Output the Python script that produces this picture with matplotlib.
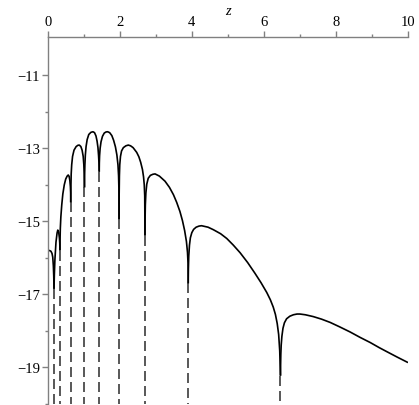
import matplotlib
matplotlib.use("Agg")
import matplotlib.pyplot as plt

plt.rcParams['font.family'] = ['Liberation Serif', 'DejaVu Serif']
plt.rcParams['lines.scale_dashes'] = False

# ---- data ----
arch0_z = [0.0, 0.05, 0.09, 0.12, 0.14, 0.157, 0.168, 0.175]
arch0_v = [-15.80, -15.80, -15.82, -15.88, -15.98, -16.22, -16.50, -16.85]

arch1_z = [0.175, 0.185, 0.20, 0.23, 0.26, 0.28, 0.305, 0.325, 0.335, 0.34]
arch1_v = [-16.85, -16.45, -16.05, -15.57, -15.32, -15.24, -15.30, -15.45, -15.60, -15.80]

arch2_z = [0.34, 0.343, 0.35, 0.365, 0.39, 0.42, 0.46, 0.50, 0.54, 0.57, 0.595, 0.615, 0.63, 0.637, 0.64]
arch2_v = [-15.80, -15.50, -15.20, -14.88, -14.55, -14.25, -14.00, -13.84, -13.76, -13.73, -13.77, -13.88, -14.05, -14.22, -14.48]

arch3_z = [0.64, 0.644, 0.652, 0.666, 0.69, 0.73, 0.79, 0.84, 0.877, 0.92, 0.955, 0.985, 1.003, 1.013, 1.02]
arch3_v = [-14.48, -14.05, -13.70, -13.45, -13.22, -13.05, -12.95, -12.915, -12.91, -12.95, -13.05, -13.22, -13.45, -13.70, -14.07]

arch4_z = [1.02, 1.024, 1.032, 1.045, 1.065, 1.095, 1.14, 1.20, 1.257, 1.30, 1.34, 1.37, 1.395, 1.412, 1.423, 1.43]
arch4_v = [-14.07, -13.75, -13.45, -13.18, -12.95, -12.76, -12.62, -12.56, -12.545, -12.57, -12.66, -12.80, -12.98, -13.20, -13.40, -13.64]

arch5_z = [1.43, 1.433, 1.44, 1.455, 1.48, 1.52, 1.57, 1.62, 1.665, 1.72, 1.78, 1.83, 1.88, 1.92, 1.95, 1.967, 1.976, 1.98]
arch5_v = [-13.64, -13.40, -13.20, -13.00, -12.82, -12.67, -12.58, -12.55, -12.545, -12.57, -12.65, -12.78, -12.96, -13.18, -13.45, -13.75, -14.10, -14.94]

arch6_z = [1.98, 1.983, 1.99, 2.0, 2.02, 2.05, 2.10, 2.17, 2.237, 2.30, 2.37, 2.47, 2.53, 2.58, 2.63, 2.66, 2.68, 2.693, 2.70]
arch6_v = [-14.94, -14.30, -13.75, -13.45, -13.22, -13.07, -12.98, -12.93, -12.91, -12.93, -12.98, -13.11, -13.23, -13.38, -13.58, -13.78, -14.00, -14.30, -15.39]

arch7_z = [2.70, 2.703, 2.71, 2.725, 2.75, 2.79, 2.85, 2.92, 2.98, 3.10, 3.256, 3.38, 3.49, 3.58, 3.67, 3.74, 3.80, 3.85, 3.88, 3.895, 3.90]
arch7_v = [-15.39, -14.95, -14.55, -14.22, -13.98, -13.82, -13.74, -13.71, -13.70, -13.76, -13.90, -14.07, -14.27, -14.48, -14.73, -14.98, -15.25, -15.55, -15.85, -16.15, -16.70]

arch8_z = [3.90, 3.905, 3.915, 3.935, 3.96, 4.0, 4.05, 4.12, 4.20, 4.27, 4.45, 4.60, 4.80, 4.97, 5.15, 5.34,
           5.55, 5.75, 5.92, 6.08, 6.18, 6.26, 6.32, 6.37, 6.41, 6.44, 6.46]
arch8_v = [-16.70, -16.30, -15.95, -15.65, -15.45, -15.31, -15.22, -15.16, -15.13, -15.12, -15.16, -15.23, -15.34, -15.47, -15.65, -15.86,
           -16.13, -16.42, -16.68, -16.95, -17.15, -17.35, -17.55, -17.80, -18.10, -18.55, -19.23]

arch9_z = [6.46, 6.465, 6.47, 6.48, 6.50, 6.53, 6.57, 6.63, 6.72, 6.82, 6.92, 7.0, 7.15, 7.37, 7.6, 7.84,
           8.1, 8.39, 8.67, 8.95, 9.2, 9.41, 9.7, 10.0]
arch9_v = [-19.23, -18.90, -18.65, -18.40, -18.15, -17.93, -17.78, -17.67, -17.60, -17.56, -17.54, -17.54, -17.56, -17.61, -17.68, -17.77,
           -17.89, -18.03, -18.18, -18.32, -18.46, -18.57, -18.72, -18.87]

zeros_z = [0.175, 0.34, 0.64, 1.02, 1.43, 1.98, 2.70, 3.90, 6.46]
zeros_bottom = [-16.85, -15.80, -14.48, -14.07, -13.64, -14.94, -15.39, -16.70, -19.23]

x_ticks = [0, 2, 4, 6, 8, 10]
x_minor = [1, 3, 5, 7, 9]
y_ticks = [-11, -13, -15, -17, -19]
y_minor = [-12, -14, -16, -18, -20]
x_label = "z"

# ---- figure ----
W, H = 419, 406
fig = plt.figure(figsize=(W / 100, H / 100), dpi=100)
ax = fig.add_axes([47.7 / W, 1 - 404.8 / H, 360.3 / W, 367.1 / H])
ax.set_xlim(0, 10)
ax.set_ylim(-20, -9.94)

zs = [arch0_z, arch1_z, arch2_z, arch3_z, arch4_z, arch5_z, arch6_z, arch7_z, arch8_z, arch9_z]
vs = [arch0_v, arch1_v, arch2_v, arch3_v, arch4_v, arch5_v, arch6_v, arch7_v, arch8_v, arch9_v]
for z, v in zip(zs, vs):
    ax.plot(z, v, color='black', lw=1.2, solid_joinstyle='round', solid_capstyle='butt')

for z0, b in zip(zeros_z, zeros_bottom):
    ax.plot([z0, z0], [b, -20], color='#2a2a2a', lw=1.1, linestyle=(0, (7.2, 3.6)))

for s in ['bottom', 'right']:
    ax.spines[s].set_visible(False)
for s in ['top', 'left']:
    ax.spines[s].set_color('#808080')
    ax.spines[s].set_linewidth(1.0)

ax.xaxis.tick_top()
ax.set_xticks(x_ticks)
ax.set_xticks(x_minor, minor=True)
ax.set_xticklabels([str(t) for t in x_ticks])
ax.set_yticks(y_ticks)
ax.set_yticks(y_minor, minor=True)
ax.set_yticklabels(["\u2212" + str(abs(t)) for t in y_ticks])
ax.tick_params(axis='both', which='major', direction='out', length=4, width=1.0,
               color='#808080', labelsize=10.5, pad=2)
ax.tick_params(axis='both', which='minor', direction='out', length=2, width=1.0,
               color='#808080')
ax.tick_params(axis='y', which='major', pad=1.5)

ax.set_xlabel(x_label, fontstyle='italic', fontsize=10.5)
ax.xaxis.set_label_position('top')
ax.xaxis.labelpad = 1

fig.savefig("out.png", dpi=100)
